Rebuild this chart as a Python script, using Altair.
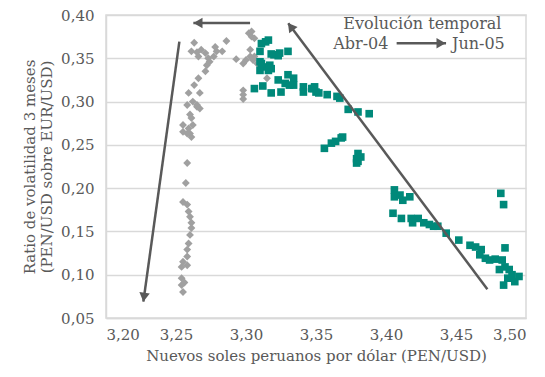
import altair as alt
import pandas as pd

# Gray diamonds (earlier period)
gray_x = [3.263, 3.286, 3.261, 3.265, 3.268, 3.271, 3.278, 3.279, 3.283, 3.266,
          3.273, 3.277, 3.274, 3.272, 3.271, 3.266, 3.263, 3.267, 3.259, 3.262,
          3.265, 3.258, 3.293, 3.302, 3.304, 3.306, 3.304, 3.303, 3.300, 3.298,
          3.303, 3.305, 3.308, 3.306, 3.315, 3.298, 3.298, 3.298,
          3.265, 3.267, 3.260, 3.261, 3.255, 3.262, 3.259, 3.258, 3.260, 3.255,
          3.261, 3.258, 3.257, 3.255, 3.258, 3.259, 3.260, 3.261, 3.261, 3.260,
          3.259, 3.258, 3.258, 3.255, 3.254, 3.258, 3.254, 3.256, 3.254, 3.255]
gray_y = [0.368, 0.370, 0.358, 0.357, 0.360, 0.356, 0.363, 0.358, 0.358, 0.352,
          0.350, 0.352, 0.346, 0.342, 0.335, 0.327, 0.319, 0.310, 0.310, 0.300,
          0.296, 0.296, 0.349, 0.379, 0.375, 0.373, 0.381, 0.360, 0.348, 0.344,
          0.352, 0.348, 0.344, 0.352, 0.327, 0.313, 0.308, 0.303,
          0.294, 0.292, 0.285, 0.281, 0.273, 0.273, 0.269, 0.263, 0.263, 0.265,
          0.259, 0.229, 0.206, 0.184, 0.181, 0.173, 0.167, 0.160, 0.154, 0.146,
          0.136, 0.129, 0.121, 0.115, 0.109, 0.111, 0.096, 0.091, 0.088, 0.080]

# Teal squares (later period)
teal_x = [3.314, 3.311, 3.316, 3.310, 3.320, 3.324, 3.330, 3.318, 3.323, 3.310,
          3.312, 3.317, 3.316, 3.318, 3.311, 3.310, 3.306, 3.312, 3.318, 3.323,
          3.330, 3.325, 3.328, 3.334, 3.334, 3.331, 3.341, 3.341, 3.347, 3.349,
          3.350, 3.358, 3.365, 3.367, 3.348, 3.352, 3.373, 3.380, 3.388,
          3.356, 3.361, 3.364, 3.368, 3.369, 3.380, 3.379, 3.380, 3.379, 3.382,
          3.406, 3.406, 3.410, 3.412, 3.417, 3.405, 3.411, 3.418, 3.419, 3.423,
          3.427, 3.431, 3.434, 3.437, 3.443, 3.452, 3.460, 3.464, 3.468, 3.467,
          3.471, 3.474, 3.478, 3.483, 3.485, 3.482, 3.484, 3.485, 3.488, 3.490,
          3.495, 3.492, 3.484, 3.487, 3.481]
teal_y = [0.369, 0.367, 0.371, 0.358, 0.354, 0.356, 0.358, 0.355, 0.353, 0.346,
          0.340, 0.342, 0.336, 0.338, 0.344, 0.336, 0.315, 0.318, 0.310, 0.325,
          0.331, 0.311, 0.321, 0.327, 0.319, 0.319, 0.317, 0.311, 0.315, 0.317,
          0.311, 0.308, 0.306, 0.304, 0.315, 0.310, 0.291, 0.288, 0.286,
          0.246, 0.252, 0.254, 0.258, 0.259, 0.240, 0.234, 0.231, 0.229, 0.236,
          0.198, 0.190, 0.192, 0.186, 0.190, 0.171, 0.165, 0.165, 0.160, 0.165,
          0.160, 0.158, 0.156, 0.156, 0.148, 0.140, 0.134, 0.132, 0.129, 0.123,
          0.119, 0.117, 0.118, 0.117, 0.131, 0.194, 0.181, 0.109, 0.106, 0.100,
          0.098, 0.092, 0.088, 0.096, 0.106]

x_ticks = [3.20, 3.25, 3.30, 3.35, 3.40, 3.45, 3.50]
y_ticks = [0.05, 0.10, 0.15, 0.20, 0.25, 0.30, 0.35, 0.40]

# Arrows: start, end (tip), head centre, head angle
arrow_x = [3.2524, 3.3029, 3.4724, 3.4076]
arrow_x2 = [3.2267, 3.2624, 3.3302, 3.4429]
arrow_y = [0.3692, 0.3908, 0.0833, 0.3673]
arrow_y2 = [0.0689, 0.3908, 0.3904, 0.3673]
head_x = [3.2271, 3.2657, 3.3319, 3.4393]
head_y = [0.0740, 0.3908, 0.3867, 0.3673]
head_angle = [188, 270, 323, 90]

ann_text = ["Evolución temporal", "Abr-04", "Jun-05"]
ann_x = [3.426, 3.382, 3.466]
ann_y = [0.3896, 0.3665, 0.3665]

FONT = "DejaVu Serif"
TXT = "#595959"
GRID = "#D9D9D9"

gray_df = pd.DataFrame({"x": gray_x, "y": gray_y})
teal_df = pd.DataFrame({"x": teal_x, "y": teal_y})
arr_df = pd.DataFrame({"x": arrow_x, "x2": arrow_x2, "y": arrow_y, "y2": arrow_y2})
head_df = pd.DataFrame({"x": head_x, "y": head_y, "a": head_angle})
ann_df = pd.DataFrame({"t": ann_text, "x": ann_x, "y": ann_y})

lab_expr = "replace(format(datum.value, '.2f'), '.', ',')"
xscale = alt.Scale(domain=[3.20, 3.50], nice=False, zero=False)
yscale = alt.Scale(domain=[0.05, 0.40], nice=False, zero=False)
xax = alt.Axis(values=x_ticks, labelExpr=lab_expr, grid=False, ticks=False,
               domainColor=GRID, domainWidth=1.5, labelPadding=9,
               title="Nuevos soles peruanos por dólar (PEN/USD)", titlePadding=6)
yax = alt.Axis(values=y_ticks, labelExpr=lab_expr, grid=True, gridColor=GRID,
               gridWidth=1.5, ticks=False, domainColor=GRID, domainWidth=1.5,
               labelPadding=12,
               title=["Ratio de volatilidad 3 meses", "(PEN/USD sobre EUR/USD)"],
               titlePadding=6)

X = alt.X("x:Q", scale=xscale, axis=xax)
Y = alt.Y("y:Q", scale=yscale, axis=yax)

gray = alt.Chart(gray_df).mark_point(shape="diamond", filled=True, size=62,
                                     color="#A0A0A0", opacity=1).encode(x=X, y=Y)
teal = alt.Chart(teal_df).mark_point(shape="square", filled=True, size=58,
                                     color="#00897A", opacity=1).encode(x="x:Q", y="y:Q")
lines = alt.Chart(arr_df).mark_rule(color="#595959", strokeWidth=2.5).encode(
    x="x:Q", x2="x2:Q", y="y:Q", y2="y2:Q")
heads = alt.Chart(head_df).mark_point(shape="triangle-up", filled=True, size=110,
                                      color="#595959", opacity=1).encode(
    x="x:Q", y="y:Q", angle=alt.Angle("a:Q", scale=None))
ann = alt.Chart(ann_df).mark_text(font=FONT, fontSize=16, color=TXT,
                                  align="center", baseline="middle").encode(
    x="x:Q", y="y:Q", text="t:N")

chart = alt.layer(gray, teal, lines, heads, ann).properties(
    width=420, height=303,
    autosize=alt.AutoSizeParams(type="none"),
    padding={"left": 98, "top": 7, "right": 11, "bottom": 52},
).configure(background="white").configure_view(
    stroke=GRID, strokeWidth=1.5
).configure_axis(
    labelFont=FONT, labelFontSize=15, labelColor=TXT,
    titleFont=FONT, titleFontSize=15, titleColor=TXT, titleFontWeight="normal"
)

chart.save("out.html", embed_options={"renderer": "svg", "actions": False})
